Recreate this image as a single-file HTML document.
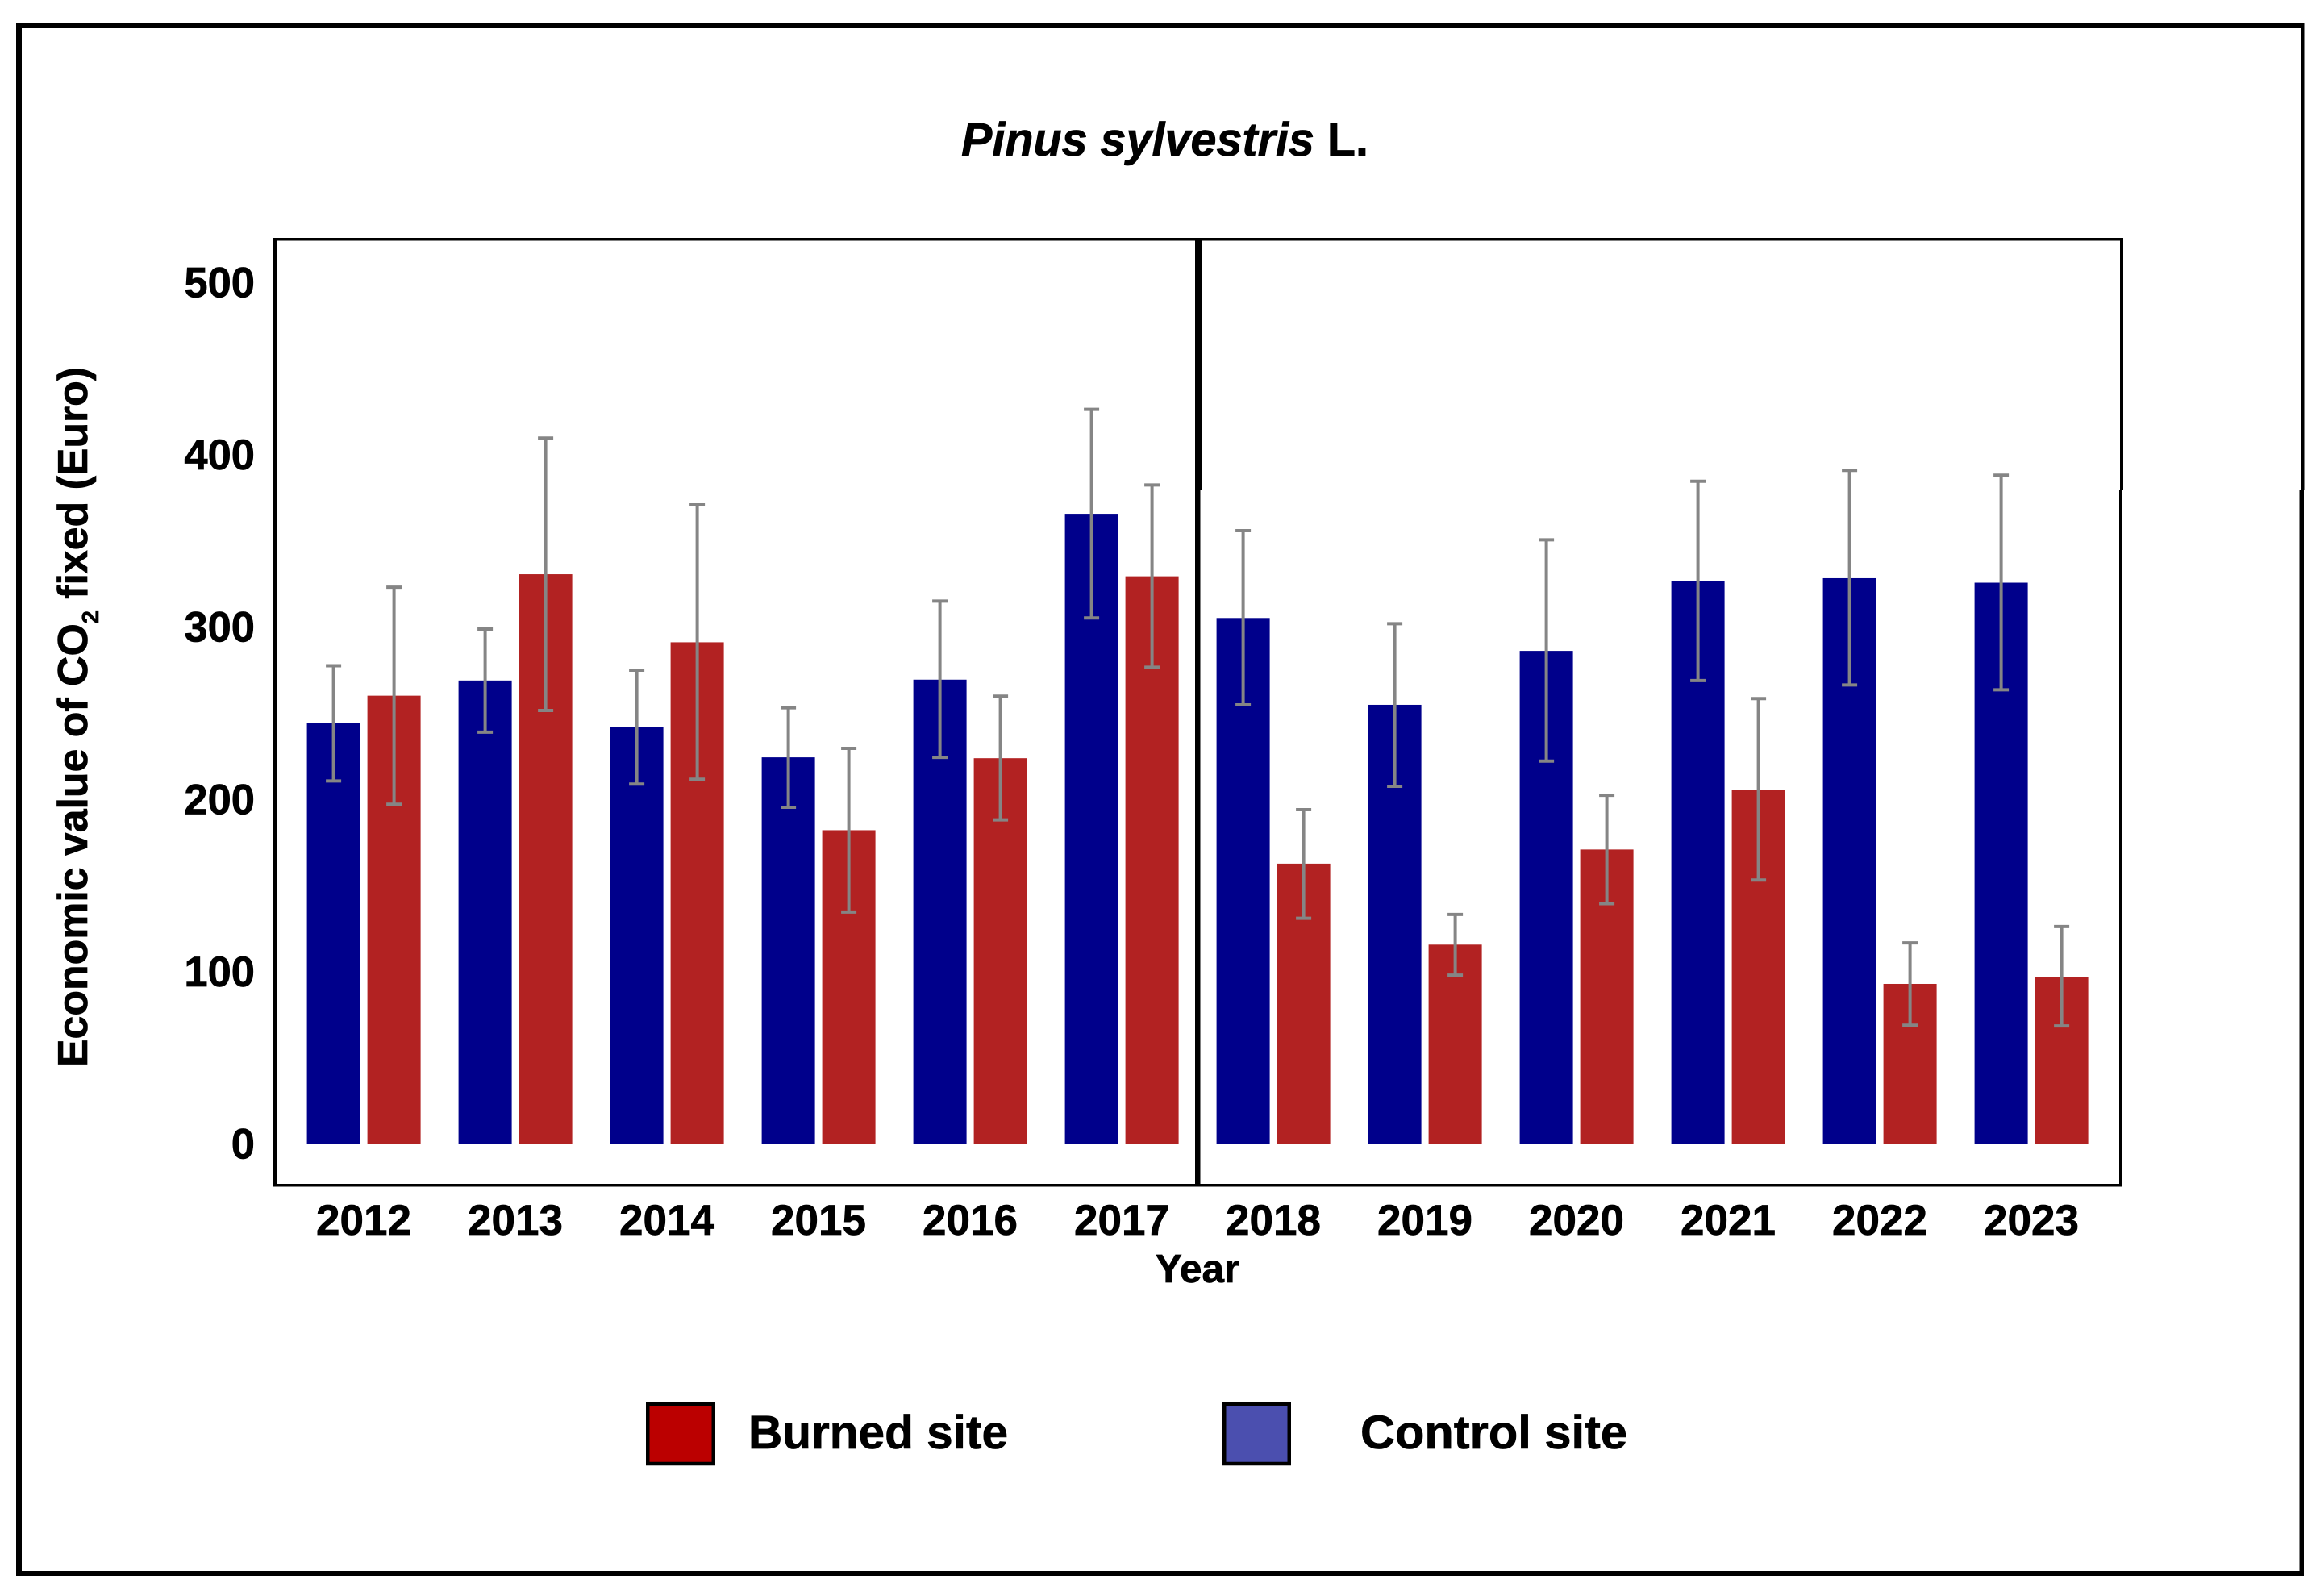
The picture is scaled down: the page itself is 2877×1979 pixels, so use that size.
<!DOCTYPE html>
<html>
<head>
<meta charset="utf-8">
<title>Pinus sylvestris L. economic value of CO2 fixed</title>
<style>
  html, body { margin: 0; padding: 0; background: #fff; }
  svg { display: block; }
  text { font-family: "Liberation Sans", sans-serif; font-weight: 700; fill: #000; stroke: #000; stroke-width: 0.7px; }
</style>
</head>
<body>
<svg id="chart" xmlns="http://www.w3.org/2000/svg" width="2877" height="1979" viewBox="0 0 2877 1979">
  <rect x="0" y="0" width="2877" height="1979" fill="#ffffff"/>

  <g fill="#000">
    <rect x="20" y="29" width="2837.5" height="6"/>
    <rect x="20" y="1948" width="2837" height="6"/>
    <rect x="20" y="29" width="7" height="1925"/>
    <rect x="2853" y="29" width="4.5" height="578"/>
    <rect x="2851.5" y="607" width="5.5" height="1347"/>
  </g>

  <text x="1192" y="193" font-size="58" textLength="505" lengthAdjust="spacingAndGlyphs"><tspan font-style="italic">Pinus sylvestris</tspan> L.</text>

  <g id="bars"></g>
  <g id="errors"></g>

  <g fill="#000">
    <rect x="339" y="295" width="2294" height="3.5"/>
    <rect x="339" y="1468" width="2292.5" height="3.5"/>
    <rect x="339" y="295" width="4" height="1176.5"/>
    <rect x="2629" y="295" width="4" height="312"/>
    <rect x="2628" y="607" width="3.5" height="864.5"/>
  </g>
  <g fill="#000">
    <rect x="1482" y="295" width="8" height="312"/>
    <rect x="1482" y="607" width="6.5" height="864"/>
  </g>

  <g id="yticks"></g>
  <g id="xticks"></g>

  <text transform="translate(108,1323) rotate(-90)" font-size="51.8">Economic value of CO<tspan font-size="29" dy="14">2</tspan><tspan dy="-14"> fixed (Euro)</tspan></text>
  <text x="1485" y="1590" font-size="49.5" text-anchor="middle">Year</text>

  <g>
    <rect x="803.25" y="1741" width="81.5" height="74" fill="#BB0000" stroke="#000" stroke-width="4.5"/>
    <text x="928" y="1796" font-size="58" textLength="322" lengthAdjust="spacingAndGlyphs">Burned site</text>
  </g>
  <g>
    <rect x="1518.25" y="1741" width="80.5" height="74" fill="#4B4FAF" stroke="#000" stroke-width="4.5"/>
    <text x="1687" y="1796" font-size="58" textLength="331" lengthAdjust="spacingAndGlyphs">Control site</text>
  </g>
</svg>

<script>
const years = [2012, 2013, 2014, 2015, 2016, 2017, 2018, 2019, 2020, 2021, 2022, 2023];
const controlValues = [244.2, 268.8, 241.8, 224.2, 269.3, 365.6, 305.1, 254.7, 286, 326.5, 328.2, 325.6];
const burnedValues = [260, 330.5, 291, 181.9, 223.7, 329.3, 162.5, 115.5, 170.7, 205.4, 92.7, 96.9];
const controlErrorTop = [277.4, 298.7, 274.8, 253, 314.9, 426.2, 355.8, 301.8, 350.5, 384.5, 390.8, 388];
const controlErrorBottom = [210.5, 238.8, 208.7, 195.2, 224.2, 305.1, 254.7, 207.4, 222, 268.8, 266.2, 263.4];
const burnedErrorTop = [323, 409.5, 370.8, 229.4, 259.7, 382.3, 193.8, 133, 202.2, 258.3, 116.5, 126];
const burnedErrorBottom = [197, 251.4, 211.5, 134.4, 187.9, 276.5, 130.8, 97.8, 139.3, 153, 68.7, 68.3];
const yTickLabels = [0, 100, 200, 300, 400, 500];

const SVG_NS = 'http://www.w3.org/2000/svg';

function yScale(v) {
  return 1418 - v * 2.136;
}
function groupCenter(i) {
  return 451 + i * 188;
}
function controlX(i) {
  return groupCenter(i) - 70.4;
}
function burnedX(i) {
  return groupCenter(i) + 4.6;
}
const BAR_WIDTH = 66;

function makeEl(tag, parent, attrs) {
  const el = document.createElementNS(SVG_NS, tag);
  for (const key in attrs) {
    el.setAttribute(key, attrs[key]);
  }
  parent.appendChild(el);
  return el;
}

function drawBar(parent, x, value, color, label) {
  const el = makeEl('rect', parent, {
    x: x,
    y: yScale(value),
    width: BAR_WIDTH,
    height: yScale(0) - yScale(value),
    fill: color
  });
  
  
}

function drawError(parent, cx, top, bottom, label) {
  const g = makeEl('g', parent, { stroke: '#858585', 'stroke-width': 4, fill: 'none' });
  
  
  makeEl('line', g, { x1: cx, x2: cx, y1: yScale(top), y2: yScale(bottom) });
  makeEl('line', g, { x1: cx - 9.5, x2: cx + 9.5, y1: yScale(top), y2: yScale(top) });
  makeEl('line', g, { x1: cx - 9.5, x2: cx + 9.5, y1: yScale(bottom), y2: yScale(bottom) });
}

const barsGroup = document.getElementById('bars');
const errorsGroup = document.getElementById('errors');
const xTicksGroup = document.getElementById('xticks');
const yTicksGroup = document.getElementById('yticks');

years.forEach(function (year, i) {
  drawBar(barsGroup, controlX(i), controlValues[i], '#00008B', 'bar-control-' + year);
  drawBar(barsGroup, burnedX(i), burnedValues[i], '#B22222', 'bar-burned-' + year);
  drawError(errorsGroup, controlX(i) + BAR_WIDTH / 2, controlErrorTop[i], controlErrorBottom[i], 'error-bar-control-' + year);
  drawError(errorsGroup, burnedX(i) + BAR_WIDTH / 2, burnedErrorTop[i], burnedErrorBottom[i], 'error-bar-burned-' + year);

  const label = makeEl('text', xTicksGroup, {
    x: groupCenter(i),
    y: 1531,
    'font-size': 53,
    'text-anchor': 'middle'
  });
  
  
  label.textContent = String(year);
});

yTickLabels.forEach(function (tick) {
  const label = makeEl('text', yTicksGroup, {
    x: 316,
    y: yScale(tick) + 18.5,
    'font-size': 52.5,
    'text-anchor': 'end'
  });
  
  
  label.textContent = String(tick);
});
</script>
</body>
</html>
